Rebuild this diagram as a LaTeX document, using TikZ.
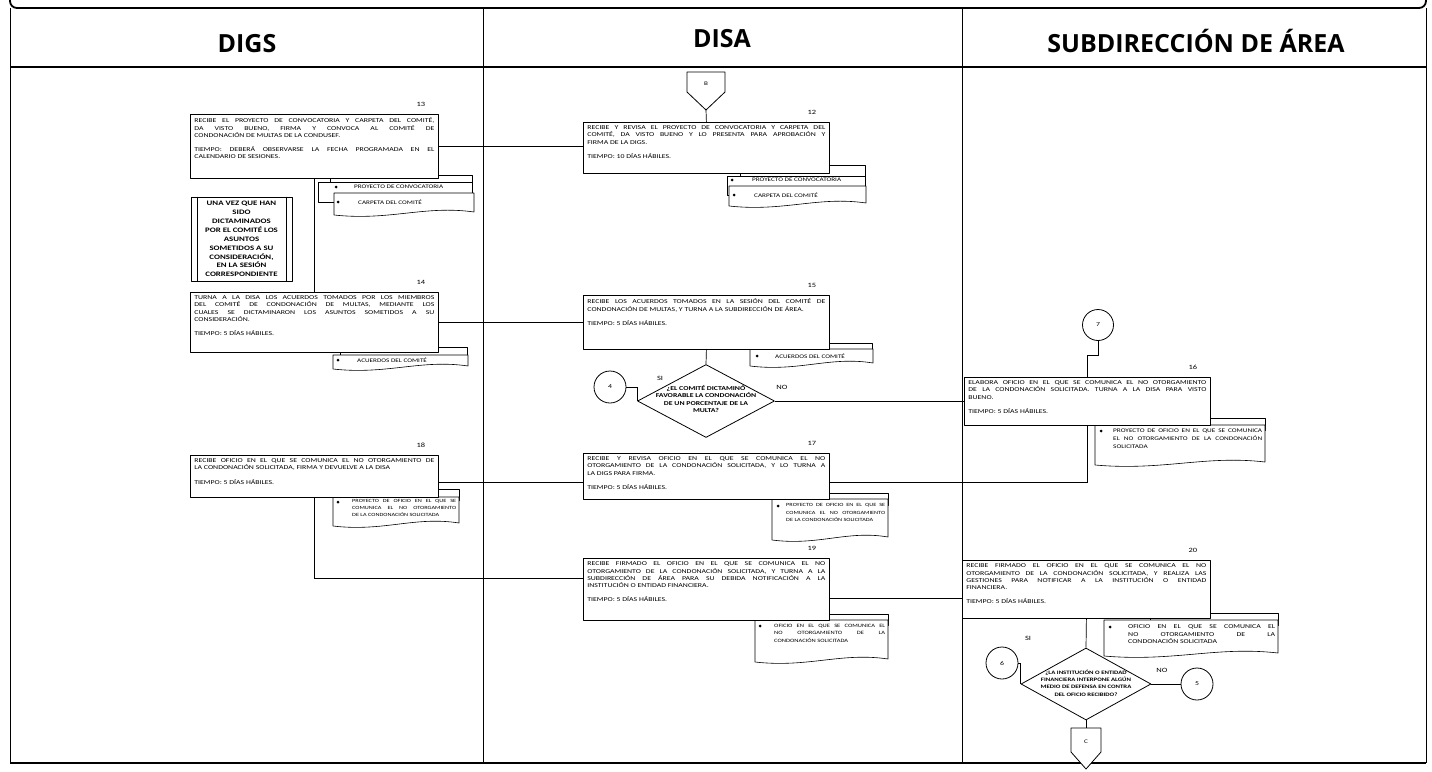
\documentclass[tikz,border=0pt]{standalone}
\usepackage{fontspec}
\setmainfont{Carlito}[FakeStretch=1.3]
\newfontfamily\headfont{Open Sans}
\usetikzlibrary{shapes.geometric,calc}
\pgfdeclarelayer{paper}
\pgfdeclarelayer{links}
\pgfsetlayers{paper,links,main}

\newcommand\boxtextsetup{\hyphenpenalty=10000 \tolerance=10000 }
% process box: name, x, y, width, height, text
\newcommand\procnode[6]{%
  \node[procbox, anchor=north west] (#1) at (#2,#3)
    {\parbox[t][\dimexpr #5pt-7pt\relax][t]{\dimexpr #4pt-8pt\relax}{\boxtextsetup #6}};}
% sheet edge peeking out behind a document: x0, y0, x1, y1
\newcommand\docback[4]{\filldraw[docline] (#1,#2) rectangle (#3,#4);}
% document sheet with wavy lower edge: x0, y0, x1, y1
\newcommand\docsheet[4]{%
  \pgfmathsetmacro\dsA{#3-0.35*(#3-#1)}%
  \pgfmathsetmacro\dsB{#1+0.4*(#3-#1)}%
  \filldraw[docline] (#1,#2) -- (#3,#2) -- (#3,#4-3)
    .. controls (\dsA,#4-10) and (\dsB,#4+6) .. (#1,#4) -- cycle;}
% bullet and listed text: name, bullet x, first line y, text x, width, size, leading, text
\newcommand\docitems[8]{%
  \fill (#2,#3) circle[radius=1.5pt];
  \node[anchor=north west, inner sep=0] (#1) at (#4,#3-2.4)
    {\parbox[t]{#5pt}{\fontsize{#6}{#7}\selectfont\boxtextsetup #8}};}

\begin{document}
\begin{tikzpicture}[x=1pt,y=-1pt,line join=round,
  procbox/.style={draw, fill=white, line width=0.8pt, inner xsep=4pt, inner ysep=3.5pt,
    font=\fontsize{6}{7.2}\selectfont},
  docline/.style={draw, fill=white, line width=0.6pt},
  link/.style={draw, line width=0.7pt},
  numlbl/.style={inner sep=0, font=\fontsize{6.5}{7}\selectfont},
  headtxt/.style={inner sep=0, font=\headfont\bfseries\fontsize{25}{28}\selectfont},
  jump/.style={circle, draw, fill=white, line width=0.8pt, minimum size=31pt, inner sep=0,
    font=\fontsize{6}{7}\selectfont},
  decision/.style={diamond, draw, fill=white, line width=0.8pt, inner sep=0},
  decisiontext/.style={inner sep=0, align=center, font=\bfseries\fontsize{#1}{7.3}\selectfont},
  offpage/.style={draw, fill=white, line width=0.8pt}]

\useasboundingbox (0,0) rectangle (1432,771);
\begin{pgfonlayer}{paper}
  \fill[white] (0,0) rectangle (1432,771);
\end{pgfonlayer}

% ---------- frame, lanes and lane titles ----------
\draw[line width=1.8pt, rounded corners=7pt] (10,-14) -- (10,8) -- (1426,8) -- (1426,-14);
\draw[line width=1pt] (10,8) -- (10,763);
\draw[line width=1pt] (1426,8) -- (1426,763);
\draw[line width=1.8pt] (10,763) -- (1426,763);
\draw[line width=1.6pt] (10,67) -- (1426,67);
\draw[line width=0.8pt] (483,8) -- (483,763);
\draw[line width=0.8pt] (962,8) -- (962,763);

\node[headtxt, anchor=base] (hdigs) at (247,52) {DIGS};
\node[headtxt, anchor=base] (hdisa) at (722,47) {DISA};
\node[headtxt, anchor=base] (hsub) at (1196,52) {SUBDIRECCIÓN DE ÁREA};

% ---------- documents attached to the steps ----------
% step 13
\docback{330}{175}{472}{192}
\docback{318}{182}{472}{202}
\docitems{d13a}{336}{187}{354}{110}{5.5}{6.5}{PROYECTO DE CONVOCATORIA}
\docsheet{334}{193}{474}{215}
\docitems{d13b}{338}{202}{358}{110}{5.5}{6.5}{CARPETA DEL COMITÉ}
% step 12
\docback{740}{165}{865}{180}
\docback{727}{176}{865}{195}
\docitems{d12a}{732}{180}{752}{110}{5.5}{6.5}{PROYECTO DE CONVOCATORIA}
\docsheet{729}{186}{866}{206}
\docitems{d12b}{734}{195}{754}{110}{5.5}{6.5}{CARPETA DEL COMITÉ}
% step 14
\docback{340}{347}{467}{358}
\docsheet{333}{355}{468}{369}
\docitems{d14}{338}{360}{357}{105}{5.5}{6.5}{ACUERDOS DEL COMITÉ}
% step 15
\docback{760}{343}{872}{355}
\docsheet{750}{349}{873}{366}
\docitems{d15}{757}{356}{775}{95}{5.5}{6.5}{ACUERDOS DEL COMITÉ}
% step 16
\docback{1120}{418}{1265}{430}
\docsheet{1095}{425}{1265}{465}
\docitems{d16}{1101}{431}{1113}{149}{5.6}{8}{PROYECTO DE OFICIO EN EL QUE SE COMUNICA\linebreak EL NO OTORGAMIENTO DE LA CONDONACIÓN\linebreak SOLICITADA}
% step 17
\docback{790}{493}{888}{505}
\docsheet{772}{499}{888}{540}
\docitems{d17}{778}{506}{786}{99}{4.8}{7.5}{PROYECTO DE OFICIO EN EL QUE SE\linebreak COMUNICA EL NO OTORGAMIENTO\linebreak DE LA CONDONACIÓN SOLICITADA}
% step 18
\docback{350}{489}{459}{500}
\docsheet{333}{497}{459}{526}
\docitems{d18}{338}{502}{352}{104}{4.8}{6.8}{PROYECTO DE OFICIO EN EL QUE SE\linebreak COMUNICA EL NO OTORGAMIENTO\linebreak DE LA CONDONACIÓN SOLICITADA}
% step 19
\docback{790}{614}{888}{625}
\docsheet{755}{620}{888}{662}
\docitems{d19}{760}{626}{774}{111}{5}{7.5}{OFICIO EN EL QUE SE COMUNICA EL\linebreak NO OTORGAMIENTO DE LA\linebreak CONDONACIÓN SOLICITADA}
% step 20
\docback{1150}{613}{1278}{625}
\docsheet{1104}{620}{1278}{656}
\docitems{d20}{1110}{627}{1128}{147}{6}{7.5}{OFICIO EN EL QUE SE COMUNICA EL\linebreak NO OTORGAMIENTO DE LA\linebreak CONDONACIÓN SOLICITADA}

% ---------- process steps ----------
\procnode{b13}{190}{114}{248}{64}{RECIBE EL PROYECTO DE CONVOCATORIA Y CARPETA DEL COMITÉ,\linebreak DA VISTO BUENO, FIRMA Y CONVOCA AL COMITÉ DE\linebreak CONDONACIÓN DE MULTAS DE LA CONDUSEF.\par\vspace{7pt}TIEMPO: DEBERÁ OBSERVARSE LA FECHA PROGRAMADA EN EL\linebreak CALENDARIO DE SESIONES.}
\procnode{b14}{190}{292}{248}{60}{TURNA A LA DISA LOS ACUERDOS TOMADOS POR LOS MIEMBROS\linebreak DEL COMITÉ DE CONDONACIÓN DE MULTAS, MEDIANTE LOS\linebreak CUALES SE DICTAMINARON LOS ASUNTOS SOMETIDOS A SU\linebreak CONSIDERACIÓN.\par\vspace{7pt}TIEMPO: 5 DÍAS HÁBILES.}
\procnode{b18}{190}{455}{248}{42}{RECIBE OFICIO EN EL QUE SE COMUNICA EL NO OTORGAMIENTO DE\linebreak LA CONDONACIÓN SOLICITADA, FIRMA Y DEVUELVE A LA DISA\par\vspace{7pt}TIEMPO: 5 DÍAS HÁBILES.}
\procnode{b12}{583}{122}{246}{51}{RECIBE Y REVISA EL PROYECTO DE CONVOCATORIA Y CARPETA DEL\linebreak COMITÉ, DA VISTO BUENO Y LO PRESENTA PARA APROBACIÓN Y\linebreak FIRMA DE LA DIGS.\par\vspace{7pt}TIEMPO: 10 DÍAS HÁBILES.}
\procnode{b15}{583}{295}{246}{54}{RECIBE LOS ACUERDOS TOMADOS EN LA SESIÓN DEL COMITÉ DE\linebreak CONDONACIÓN DE MULTAS, Y TURNA A LA SUBDIRECCIÓN DE ÁREA.\par\vspace{7pt}TIEMPO: 5 DÍAS HÁBILES.}
\procnode{b17}{583}{453}{246}{46}{RECIBE Y REVISA OFICIO EN EL QUE SE COMUNICA EL NO\linebreak OTORGAMIENTO DE LA CONDONACIÓN SOLICITADA, Y LO TURNA A\linebreak LA DIGS PARA FIRMA.\par\vspace{7pt}TIEMPO: 5 DÍAS HÁBILES.}
\procnode{b19}{583}{558}{246}{62}{RECIBE FIRMADO EL OFICIO EN EL QUE SE COMUNICA EL NO\linebreak OTORGAMIENTO DE LA CONDONACIÓN SOLICITADA, Y TURNA A LA\linebreak SUBDIRECCIÓN DE ÁREA PARA SU DEBIDA NOTIFICACIÓN A LA\linebreak INSTITUCIÓN O ENTIDAD FINANCIERA.\par\vspace{7pt}TIEMPO: 5 DÍAS HÁBILES.}
\procnode{b16}{964}{377}{246}{48}{ELABORA OFICIO EN EL QUE SE COMUNICA EL NO OTORGAMIENTO\linebreak DE LA CONDONACIÓN SOLICITADA. TURNA A LA DISA PARA VISTO\linebreak BUENO.\par\vspace{7pt}TIEMPO: 5 DÍAS HÁBILES.}
\procnode{b20}{962}{560}{248}{58}{RECIBE FIRMADO EL OFICIO EN EL QUE SE COMUNICA EL NO\linebreak OTORGAMIENTO DE LA CONDONACIÓN SOLICITADA, Y REALIZA LAS\linebreak GESTIONES PARA NOTIFICAR A LA INSTITUCIÓN O ENTIDAD\linebreak FINANCIERA.\par\vspace{7pt}TIEMPO: 5 DÍAS HÁBILES.}

% step numbers
\foreach \b/\n in {b13/13,b14/14,b18/18,b12/12,b15/15,b17/17,b19/19,b16/16,b20/20}
  \node[numlbl] (n\n) at ([xshift=-18pt,yshift=10pt]\b.north east) {\n};

% note in the DIGS lane
\node[draw, fill=white, line width=0.8pt, minimum width=101pt, minimum height=84pt, inner sep=0,
  align=center, font=\bfseries\fontsize{6.8}{8.9}\selectfont] (note) at (241.5,239)
  {UNA VEZ QUE HAN\\SIDO\\DICTAMINADOS\\POR EL COMITÉ LOS\\ASUNTOS\\SOMETIDOS A SU\\CONSIDERACIÓN,\\EN LA SESIÓN\\CORRESPONDIENTE};
\draw[line width=0.8pt] ([xshift=6.5pt]note.north west) -- ([xshift=6.5pt]note.south west);
\draw[line width=0.8pt] ([xshift=-6.5pt]note.north east) -- ([xshift=-6.5pt]note.south east);

% ---------- decisions ----------
\node[decision, minimum width=137pt, minimum height=73pt] (dec1) at (706,401) {};
\node[decisiontext=6] (dec1t) at (706,399) {¿EL COMITÉ DICTAMINÓ\\FAVORABLE LA CONDONACIÓN\\DE UN PORCENTAJE DE LA\\MULTA?};
\node[decision, minimum width=130pt, minimum height=72pt] (dec2) at (1086,684) {};
\node[decisiontext=5.2] (dec2t) at (1086,683) {¿LA INSTITUCIÓN O ENTIDAD\\FINANCIERA INTERPONE ALGÚN\\MEDIO DE DEFENSA EN CONTRA\\DEL OFICIO RECIBIDO?};

\node[numlbl] (si1) at (660,378) {SI};
\node[numlbl] (no1) at (782,387) {NO};
\node[numlbl] (si2) at (1028,638) {SI};
\node[numlbl] (no2) at (1162,670) {NO};

% ---------- connectors on page ----------
\node[jump, minimum size=32pt] (j4) at (610,387) {4};
\node[jump] (j7) at (1098,325) {7};
\node[jump, minimum size=32pt] (j6) at (1002,663) {6};
\node[jump, minimum size=32pt] (j5) at (1197,684) {5};

% ---------- off-page connectors ----------
\filldraw[offpage] (687,72) -- (725,72) -- (725,92) -- (706,110) -- (687,92) -- cycle;
\node[inner sep=0, font=\fontsize{5.5}{6}\selectfont] (offB) at (706,84) {B};
\coordinate (offBtip) at (706,110);
\filldraw[offpage] (1071,728) -- (1101,728) -- (1101,752) -- (1086,769) -- (1071,752) -- cycle;
\node[inner sep=0, font=\fontsize{5.5}{6}\selectfont] (offC) at (1086,742) {C};
\coordinate (offCtop) at (1086,728);

% attachment points on box sides
\coordinate (b17r) at ($(b17.north east)!0.63!(b17.south east)$);
\coordinate (b17l) at ($(b17.north west)!0.63!(b17.south west)$);
\coordinate (b19l) at ($(b19.north west)!0.32!(b19.south west)$);
\coordinate (b19r) at ($(b19.north east)!0.645!(b19.south east)$);

% ---------- flow lines ----------
\begin{pgfonlayer}{links}
  \draw[link] (offBtip) -- (b12.north);
  \draw[link] (b13.east) -- (b13.east -| b12.west);
  \draw[link] (b13.south) -- (b14.north);
  \draw[link] (b14.east) -- (b14.east -| b15.west);
  \draw[link] (b15.south) -- (dec1.north);
  \draw[link] (dec1.west) |- (j4.east);
  \draw[link] (dec1.east) -- (dec1.east -| b16.west);
  \draw[link] (j7.south) -- ++(0,14) -| (b16.north);
  \draw[link] (b16.south) |- (b17r);
  \draw[link] (b17l) -- (b17l -| b18.east);
  \draw[link] (b18.south) |- (b19l);
  \draw[link] (b19r) -- (b19r -| b20.west);
  \draw[link] (b20.south) -- (dec2.north);
  \draw[link] (dec2.west) |- (j6.east);
  \draw[link] (dec2.east) -- (j5.west);
  \draw[link] (dec2.south) -- (offCtop);
\end{pgfonlayer}
\end{tikzpicture}
\end{document}
